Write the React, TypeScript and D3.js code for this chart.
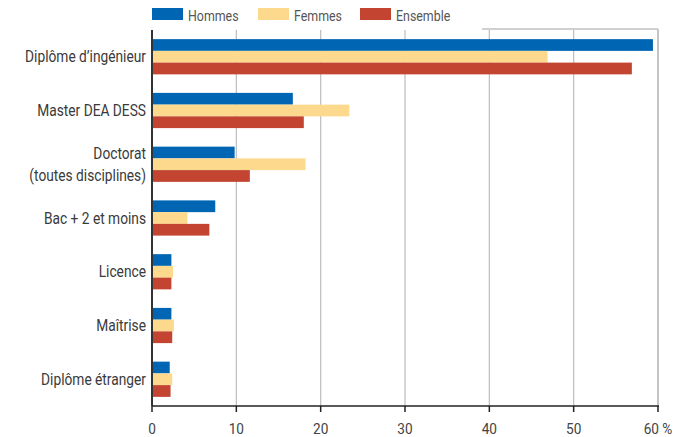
import React from "react";
import * as d3 from "d3";

const categories = [
  ["Diplôme d’ingénieur"],
  ["Master DEA DESS"],
  ["Doctorat", "(toutes disciplines)"],
  ["Bac + 2 et moins"],
  ["Licence"],
  ["Maîtrise"],
  ["Diplôme étranger"],
];
const seriesNames = ["Hommes", "Femmes", "Ensemble"];
const hommes = [59.4, 16.7, 9.8, 7.5, 2.3, 2.3, 2.1];
const femmes = [46.9, 23.4, 18.2, 4.2, 2.5, 2.6, 2.4];
const ensemble = [56.9, 18.0, 11.6, 6.8, 2.3, 2.4, 2.2];
const xTicks = [0, 10, 20, 30, 40, 50, 60];
const colors = ["#0066b3", "#fdd98e", "#c34431"];

const W = 691, H = 437;
const left = 152, right = 658, top = 30, bottom = 406;
const font = "Roboto, Arial, sans-serif";

export default function App() {
  const x = d3.scaleLinear().domain([0, 60]).range([left, right]);
  const y = d3.scaleBand<number>().domain(d3.range(categories.length)).range([top, bottom]).paddingInner(0.345).paddingOuter(0.17);
  const inner = d3.scaleBand<number>().domain([0, 1, 2]).range([0, y.bandwidth()]);
  const series = [hommes, femmes, ensemble];
  const legendX = [152, 258, 360];
  return (
    <svg width={W} height={H} style={{ position: "absolute", left: 0, top: 0, fontFamily: font, fontWeight: 400 }}>
      <rect width={W} height={H} fill="#fff" />
      <line x1={left} x2={right} y1={top - 1} y2={top - 1} stroke="#c0c0c0" strokeWidth={1.5} />
      <line x1={right} x2={right} y1={top - 1} y2={bottom} stroke="#c0c0c0" strokeWidth={1.5} />
      {xTicks.slice(1).map((t) => (
        <line key={t} x1={x(t)} x2={x(t)} y1={top} y2={bottom} stroke="#bdbdbd" strokeWidth={1.2} />
      ))}
      <rect x={0} y={0} width={482} height={top} fill="#fff" />
      {series.map((s, si) =>
        s.map((v, i) => (
          <rect key={si + "-" + i} x={x(0)} y={(y(i) as number) + (inner(si) as number)} width={x(v) - x(0)} height={inner.bandwidth()} fill={colors[si]} />
        ))
      )}
      <line x1={left} x2={left} y1={top} y2={bottom} stroke="#333" strokeWidth={2} />
      <line x1={left} x2={right + 1} y1={bottom} y2={bottom} stroke="#222" strokeWidth={1.5} />
      {xTicks.map((t) => (
        <g key={t}>
          <line x1={x(t)} x2={x(t)} y1={bottom} y2={bottom + 6} stroke="#222" strokeWidth={1.5} />
          <g transform={`translate(${x(t)},434) scale(0.88,1)`}>
            <text x={0} y={0} textAnchor="middle" fontSize={15.5} fill="#444">{t === 60 ? "60 %" : t}</text>
          </g>
        </g>
      ))}
      {categories.map((lines, i) => {
        const cy = (y(i) as number) + y.bandwidth() / 2;
        const n = lines.length;
        return (
          <g key={i} transform={`translate(146,${cy + 5.5}) scale(0.86,1)`}>
            <text x={0} textAnchor="end" fontSize={16} fill="#3a3a3a">
              {lines.map((l, li) => (
                <tspan key={li} x={0} y={(li - (n - 1) / 2) * 22}>{l}</tspan>
              ))}
            </text>
          </g>
        );
      })}
      {seriesNames.map((n, i) => (
        <g key={n}>
          <rect x={legendX[i]} y={8} width={31} height={12} fill={colors[i]} />
          <g transform={`translate(${legendX[i] + 36},20.5) scale(0.8,1)`}>
            <text x={0} y={0} fontSize={15.5} fill="#555">{n}</text>
          </g>
        </g>
      ))}
    </svg>
  );
}
